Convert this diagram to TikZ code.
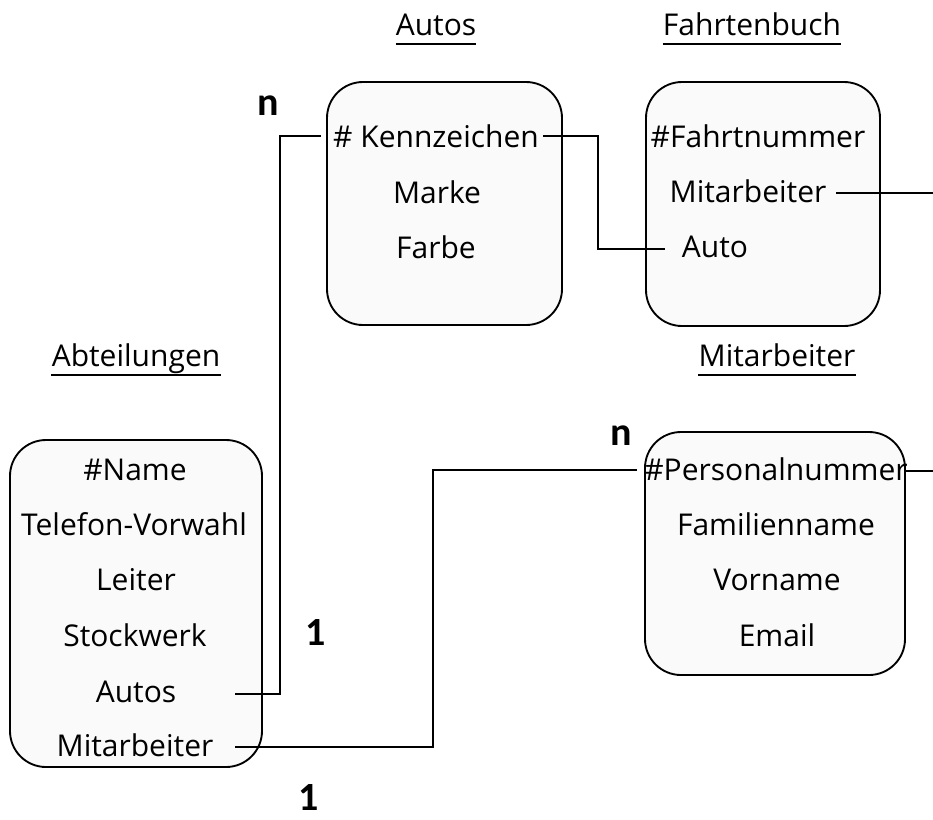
\documentclass[tikz,border=0pt]{standalone}
\usepackage{fontspec}
\setmainfont{Open Sans}
\newfontfamily\cardfont{Carlito}

\tikzset{
  tbl/.style={draw,line width=1.4pt,rounded corners=27pt,fill=black!2},
  attr/.style={font=\fontsize{22.5}{26}\selectfont,inner sep=0pt,anchor=base},
  ttl/.style={attr},
  uline/.style={line width=1.4pt},
  card/.style={font=\cardfont\bfseries\fontsize{30}{32}\selectfont,inner sep=0pt,anchor=base},
  link/.style={line width=1.4pt}
}

\begin{document}
\begin{tikzpicture}[x=0.75pt,y=-0.75pt]
\useasboundingbox (0,0) rectangle (933,819);

% tables
\draw[tbl] (327,82) rectangle (562,325);
\draw[tbl] (646,82) rectangle (880,326);
\draw[tbl] (10,440) rectangle (262,767);
\draw[tbl] (645,432) rectangle (905,675);

% titles
\node[ttl] (tAutos) at (436,35) {Autos};
\node[ttl] (tFahrt) at (752,35) {Fahrtenbuch};
\node[ttl] (tAbt) at (136,366) {Abteilungen};
\node[ttl] (tMit) at (777,366) {Mitarbeiter};
\foreach \t in {tAutos,tFahrt,tAbt,tMit}
  \draw[uline] ([yshift=-6.5pt]\t.base west) -- ([yshift=-6.5pt]\t.base east);

% Autos
\node[attr] (kennz) at (436,147) {\# Kennzeichen};
\node[attr] (marke) at (437,203) {Marke};
\node[attr] (farbe) at (436,258) {Farbe};

% Fahrtenbuch
\node[attr] (fnr) at (758,147) {\#Fahrtnummer};
\node[attr] (fmit) at (748,202) {Mitarbeiter};
\node[attr] (fauto) at (715,257) {Auto};

% Abteilungen
\node[attr] (aname) at (135,480) {\#Name};
\node[attr] (atel) at (134,535) {Telefon-Vorwahl};
\node[attr] (aleit) at (136,590) {Leiter};
\node[attr] (astock) at (135,646) {Stockwerk};
\node[attr] (aautos) at (136,702) {Autos};
\node[attr] (amit) at (135,756) {Mitarbeiter};

% Mitarbeiter
\node[attr] (mpnr) at (776,480) {\#Personalnummer};
\node[attr] (mfam) at (776,535) {Familienname};
\node[attr] (mvor) at (777,590) {Vorname};
\node[attr] (mmail) at (777,646) {Email};

% cardinalities
\node[card] (n1) at (268,115) {n};
\node[card] (n2) at (621,445) {n};
\node[card] (e1) at (316,645) {1};
\node[card] (e2) at (309,810) {1};

% ports
\coordinate (pAbtAutos) at (235,694);
\coordinate (pAbtMit) at (235,747);
\coordinate (pKennzL) at (321,136);
\coordinate (pKennzR) at (543,136);
\coordinate (pAuto) at (665,249);
\coordinate (pFMit) at (836,193);
\coordinate (pFMitEnd) at (933,193);
\coordinate (pPnrL) at (637,470);
\coordinate (pPnrR) at (905,471);
\coordinate (pPnrEnd) at (933,471);
\coordinate (bus1) at (280,0);
\coordinate (bus2) at (598,0);
\coordinate (bus3) at (433,0);

% links
\draw[link] (pAbtAutos) -| (bus1 |- pKennzL) -- (pKennzL);
\draw[link] (pKennzR) -| (bus2 |- pAuto) -- (pAuto);
\draw[link] (pFMit) -- (pFMitEnd);
\draw[link] (pAbtMit) -| (bus3 |- pPnrL) -- (pPnrL);
\draw[link] (pPnrR) -- (pPnrEnd);
\end{tikzpicture}
\end{document}
